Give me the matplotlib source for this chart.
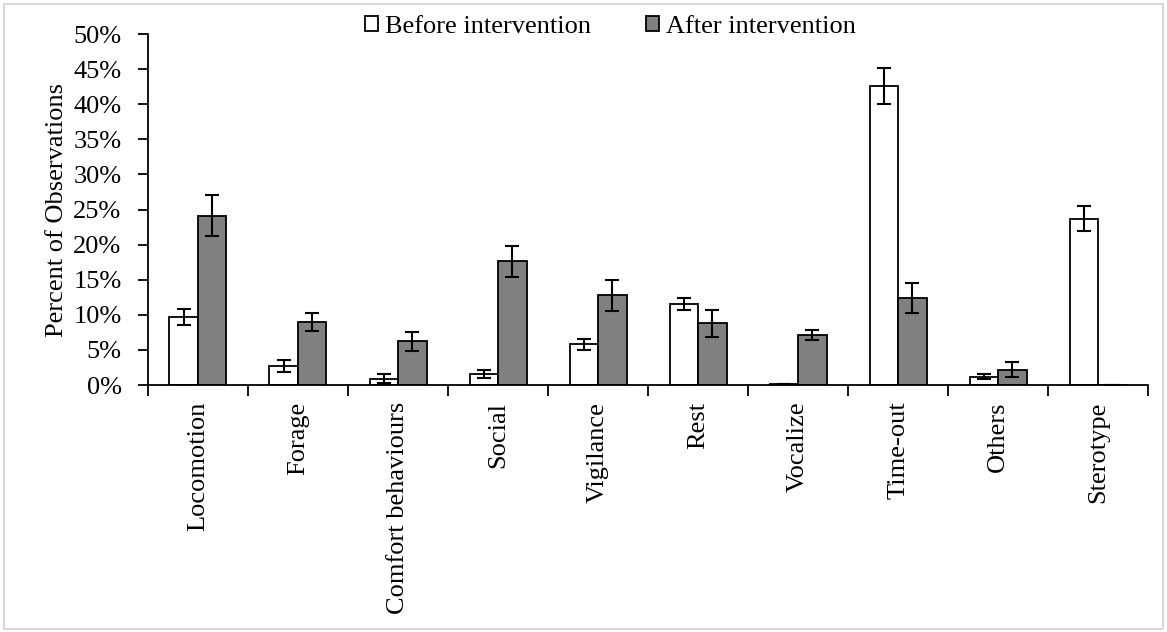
import numpy as np
import matplotlib.pyplot as plt
from matplotlib.patches import Rectangle

plt.rcParams['font.family'] = ['Liberation Serif', 'DejaVu Serif']

categories = ["Locomotion", "Forage", "Comfort behaviours", "Social", "Vigilance",
              "Rest", "Vocalize", "Time-out", "Others", "Sterotype"]
before = [9.7, 2.7, 0.9, 1.6, 5.8, 11.6, 0.15, 42.6, 1.2, 23.7]
before_err = [1.1, 0.8, 0.6, 0.6, 0.8, 0.85, 0.0, 2.6, 0.3, 1.8]
after = [24.1, 9.0, 6.2, 17.6, 12.8, 8.8, 7.1, 12.4, 2.2, 0.0]
after_err = [2.9, 1.3, 1.4, 2.2, 2.2, 1.9, 0.7, 2.1, 1.1, 0.0]

fig = plt.figure(figsize=(11.67, 6.32), dpi=100)
ax = fig.add_axes([0.1268, 0.3908, 0.857, 0.5554])

x = np.arange(len(categories))
w = 0.285
ekw = dict(ecolor="black", elinewidth=1.5, capsize=5, capthick=1.5)
ax.bar(x - w / 2, before, w, yerr=before_err, color="white", edgecolor="black",
       linewidth=1.3, error_kw=ekw, label="Before intervention")
ax.bar(x + w / 2, after, w, yerr=after_err, color="#808080", edgecolor="black",
       linewidth=1.3, error_kw=ekw, label="After intervention")

ax.set_xlim(-0.5, len(categories) - 0.5)
ax.set_ylim(0, 50)
ax.set_yticks(np.arange(0, 51, 5))
ax.set_yticklabels([f"{v}%" for v in range(0, 51, 5)], fontsize=19)
ax.set_xticks(x)
ax.set_xticklabels(categories, rotation=90, fontsize=19)
ax.tick_params(axis="x", which="major", length=0, pad=12)
ax.set_xticks(np.arange(-0.5, len(categories)), minor=True)
ax.tick_params(axis="x", which="minor", length=8, width=1.3, direction="out")
ax.tick_params(axis="y", length=7, width=1.3, direction="out", pad=12)
for s in ["top", "right"]:
    ax.spines[s].set_visible(False)
ax.spines["left"].set_linewidth(1.3)
ax.spines["bottom"].set_linewidth(1.3)
ax.set_ylabel("Percent of Observations", fontsize=19, labelpad=4)

fig.legend(loc="center", bbox_to_anchor=(0.523, 0.958), ncol=2, frameon=False,
           fontsize=19, handlelength=0.5, handleheight=0.5, handletextpad=0.25,
           columnspacing=2.1, borderaxespad=0, borderpad=0)

fig.patches.append(Rectangle((0.003, 0.004), 0.994, 0.99, transform=fig.transFigure,
                             fill=False, edgecolor="#d0d0d0", linewidth=1.2))

fig.savefig("out.png", dpi=100)
